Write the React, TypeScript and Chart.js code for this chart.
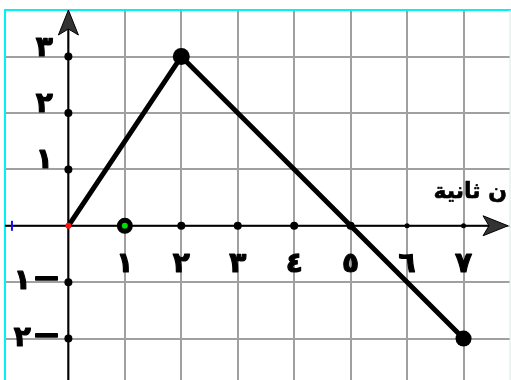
import { useEffect, useRef } from 'react';
import { Chart, registerables } from 'chart.js';
Chart.register(...registerables);

// ---- data ----
const pathX = [0, 2, 7];
const pathY = [0, 3, -2];
const markedX = [1];
const markedY = [0];
const xTickValues = [1, 2, 3, 4, 5, 6, 7];
const xTickLabels = ['١', '٢', '٣', '٤', '٥', '٦', '٧'];
const yTickValues = [3, 2, 1, -1, -2];
const yTickLabels = ['٣', '٢', '١', '١', '٢'];
const xGridValues = [0, 1, 2, 3, 4, 5, 6, 7];
const yGridValues = [-2, -1, 0, 1, 2, 3];
const xAxisTitle = 'ن ثانية';
const leftMarkValue = -1;
const xMin = -1.123, xMax = 7.823, yMin = -2.734, yMax = 3.826;

const FONT = '"DejaVu Sans", sans-serif';

function heavyText(ctx: CanvasRenderingContext2D, t: string, x: number, y: number) {
  ctx.fillText(t, x, y);
  ctx.strokeText(t, x, y);
}

const decorPlugin = {
  id: 'decor',
  beforeDatasetsDraw(chart: any) {
    const { ctx, chartArea: a } = chart;
    const xs = chart.scales.x, ys = chart.scales.y;
    const x0 = xs.getPixelForValue(0);
    const y0 = ys.getPixelForValue(0);
    ctx.save();
    // frame
    ctx.strokeStyle = '#00f2f2';
    ctx.lineWidth = 2;
    ctx.beginPath();
    ctx.moveTo(a.left, a.bottom);
    ctx.lineTo(a.left, a.top);
    ctx.lineTo(a.right + 2, a.top);
    ctx.stroke();
    ctx.strokeStyle = '#d8e8e8';
    ctx.lineWidth = 1;
    ctx.beginPath();
    ctx.moveTo(a.right, a.top);
    ctx.lineTo(a.right, a.bottom);
    ctx.stroke();

    // axes
    ctx.strokeStyle = '#000';
    ctx.lineWidth = 2;
    ctx.beginPath();
    ctx.moveTo(a.left, y0);
    ctx.lineTo(a.right - 6, y0);
    ctx.moveTo(x0, a.bottom);
    ctx.lineTo(x0, a.top + 4);
    ctx.stroke();

    // arrows
    ctx.fillStyle = '#333';
    ctx.lineWidth = 1;
    ctx.beginPath();
    ctx.moveTo(x0, a.top);
    ctx.lineTo(x0 - 10, a.top + 25);
    ctx.lineTo(x0, a.top + 19);
    ctx.lineTo(x0 + 10, a.top + 25);
    ctx.closePath();
    ctx.fill();
    ctx.stroke();
    const tip = a.right - 2;
    ctx.beginPath();
    ctx.moveTo(tip, y0);
    ctx.lineTo(tip - 25, y0 - 10);
    ctx.lineTo(tip - 19, y0);
    ctx.lineTo(tip - 25, y0 + 10);
    ctx.closePath();
    ctx.fill();
    ctx.stroke();

    // blue mark
    const bx = xs.getPixelForValue(leftMarkValue);
    ctx.strokeStyle = '#1010ff';
    ctx.lineWidth = 2;
    ctx.beginPath();
    ctx.moveTo(bx, y0 - 5);
    ctx.lineTo(bx, y0 + 5);
    ctx.stroke();

    // tick labels
    ctx.fillStyle = '#000';
    ctx.strokeStyle = '#000';
    ctx.lineWidth = 1.2;
    ctx.lineJoin = 'round';
    ctx.font = `bold 28px ${FONT}`;
    ctx.textAlign = 'center';
    ctx.textBaseline = 'alphabetic';
    xTickValues.forEach((v, i) => {
      heavyText(ctx, xTickLabels[i], xs.getPixelForValue(v), y0 + 46);
    });
    yTickValues.forEach((v, i) => {
      const py = ys.getPixelForValue(v);
      if (v > 0) {
        ctx.textAlign = 'center';
        ctx.textBaseline = 'alphabetic';
        ctx.font = `bold 28px ${FONT}`;
        ctx.lineWidth = 1.2;
        heavyText(ctx, yTickLabels[i], x0 - 24, py - 1);
      } else {
        ctx.textAlign = 'center';
        ctx.textBaseline = 'middle';
        ctx.font = `bold 28px ${FONT}`;
        ctx.lineWidth = 1.2;
        heavyText(ctx, yTickLabels[i], x0 - 46, py);
        ctx.font = `bold 24px ${FONT}`;
        ctx.lineWidth = 1.6;
        heavyText(ctx, '—', x0 - 22, py - 3);
      }
    });

    // axis title
    ctx.font = `bold 22px ${FONT}`;
    ctx.textAlign = 'right';
    ctx.textBaseline = 'alphabetic';
    ctx.direction = 'rtl';
    ctx.lineWidth = 0.6;
    heavyText(ctx, xAxisTitle, a.right - 3, y0 - 28);
    ctx.restore();
  },
};

export default function App() {
  const ref = useRef<HTMLCanvasElement | null>(null);
  useEffect(() => {
    document.body.style.margin = '0';
    const canvas = ref.current!;
    const chart = new Chart(canvas, {
      type: 'scatter',
      data: {
        datasets: [
          {
            data: pathX.map((x, i) => ({ x, y: pathY[i] })),
            showLine: true,
            borderColor: '#000',
            borderWidth: 5,
            pointRadius: [3, 8.5, 8],
            pointBackgroundColor: ['#ff1010', '#000', '#000'],
            pointBorderWidth: 0,
            order: 1,
          },
          {
            data: markedX.map((x, i) => ({ x, y: markedY[i] })),
            pointRadius: 5.5,
            pointBorderWidth: 5,
            pointBorderColor: '#000',
            pointBackgroundColor: '#00dd00',
            order: 0,
          },
          {
            data: [
              ...xTickValues.map((v) => ({ x: v, y: 0 })),
              ...yTickValues.map((v) => ({ x: 0, y: v })),
            ],
            pointRadius: (c: any) => (c.raw && c.raw.y === 0 && c.raw.x >= 6 ? 2.5 : 4),
            pointBackgroundColor: '#000',
            pointBorderWidth: 0,
            order: 2,
          },
        ],
      },
      options: {
        animation: false,
        responsive: false,
        events: [],
        layout: { autoPadding: false, padding: { left: 5, top: 10, right: 1, bottom: 0 } },
        plugins: { legend: { display: false }, tooltip: { enabled: false } },
        scales: {
          x: {
            type: 'linear',
            min: xMin,
            max: xMax,
            afterBuildTicks: (s: any) => {
              s.ticks = xGridValues.map((v) => ({ value: v }));
            },
            afterFit: (s: any) => {
              s.height = 0;
              s.paddingLeft = 0; s.paddingRight = 0; s.paddingTop = 0; s.paddingBottom = 0;
            },
            ticks: { display: false, padding: 0 },
            grid: { color: '#a0a0a0', lineWidth: 2, drawTicks: false },
            border: { display: false },
          },
          y: {
            type: 'linear',
            min: yMin,
            max: yMax,
            afterBuildTicks: (s: any) => {
              s.ticks = yGridValues.map((v) => ({ value: v }));
            },
            afterFit: (s: any) => {
              s.width = 0;
              s.paddingLeft = 0; s.paddingRight = 0; s.paddingTop = 0; s.paddingBottom = 0;
            },
            ticks: { display: false, padding: 0 },
            grid: { color: '#a0a0a0', lineWidth: 2, drawTicks: false },
            border: { display: false },
          },
        },
      },
      plugins: [decorPlugin],
    });
    return () => chart.destroy();
  }, []);
  return (
    <div style={{ position: 'fixed', left: 0, top: 0, width: 511, height: 380, background: '#fff' }}>
      <canvas ref={ref} width={511} height={380} style={{ width: 511, height: 380, display: 'block' }} />
    </div>
  );
}
